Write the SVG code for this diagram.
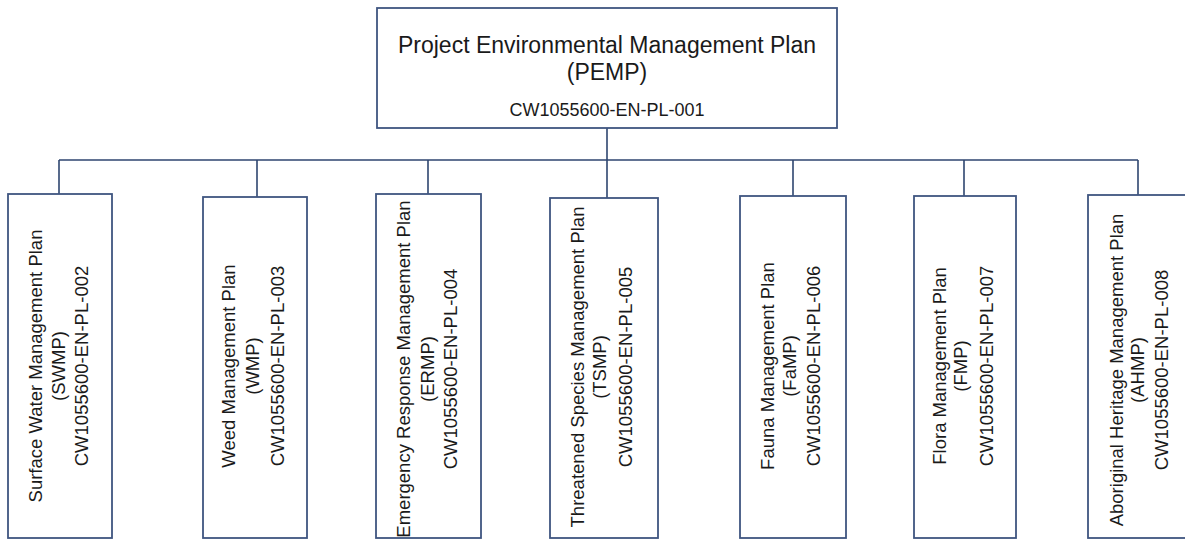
<svg xmlns="http://www.w3.org/2000/svg" width="1185" height="540" viewBox="0 0 1185 540">
<style>
.box{fill:#fff;stroke:#3f5580;stroke-width:1.8}
.conn{fill:none;stroke:#2f4670;stroke-width:1.6}
text{font-family:"Liberation Sans",Arial,sans-serif;fill:#1a1a1a;text-anchor:middle}
.t1{font-size:23px}
.code{font-size:18px}
.c{font-size:18.5px}
</style>
<rect width="1185" height="540" fill="#fff"/>
<g id="connectors">
<path class="conn" d="M607 128V160M59 160H1138M59 160V194M257 160V197M428 160V194M607 160V198M793 160V196M964 160V196M1138 160V195"/>
</g>
<g id="pemp">
<rect class="box" x="377" y="8" width="460" height="120"/>
<text class="t1" x="607" y="53">Project Environmental Management Plan</text>
<text class="t1" x="607" y="80">(PEMP)</text>
<text class="code" x="607" y="116">CW1055600-EN-PL-001</text>
</g>
<g id="swmp">
<rect class="box" x="8" y="194" width="104" height="344"/>
<g transform="translate(60,366) rotate(-90)"><text class="c" y="-18">Surface Water Management Plan</text><text class="c" y="5">(SWMP)</text><text class="c" y="28">CW1055600-EN-PL-002</text></g>
</g>
<g id="wmp">
<rect class="box" x="203" y="197" width="104" height="341"/>
<g transform="translate(255,366) rotate(-90)"><text class="c" y="-20">Weed Management Plan</text><text class="c" y="4">(WMP)</text><text class="c" y="29">CW1055600-EN-PL-003</text></g>
</g>
<g id="ermp">
<rect class="box" x="376" y="194" width="105" height="344"/>
<g transform="translate(428.5,369) rotate(-90)"><text class="c" y="-19">Emergency Response Management Plan</text><text class="c" y="5">(ERMP)</text><text class="c" y="28">CW1055600-EN-PL-004</text></g>
</g>
<g id="tsmp">
<rect class="box" x="550" y="198" width="108" height="340"/>
<g transform="translate(604,367) rotate(-90)"><text class="c" y="-20">Threatened Species Management Plan</text><text class="c" y="2">(TSMP)</text><text class="c" y="28">CW1055600-EN-PL-005</text></g>
</g>
<g id="famp">
<rect class="box" x="740" y="196" width="106" height="342"/>
<g transform="translate(793,366) rotate(-90)"><text class="c" y="-19">Fauna Management Plan</text><text class="c" y="3">(FaMP)</text><text class="c" y="27">CW1055600-EN-PL-006</text></g>
</g>
<g id="fmp">
<rect class="box" x="914" y="196" width="102" height="342"/>
<g transform="translate(965,366) rotate(-90)"><text class="c" y="-19">Flora Management Plan</text><text class="c" y="2">(FMP)</text><text class="c" y="28">CW1055600-EN-PL-007</text></g>
</g>
<g id="ahmp">
<rect class="box" x="1088" y="195" width="108" height="343"/>
<g transform="translate(1142,370) rotate(-90)"><text class="c" y="-19">Aboriginal Heritage Management Plan</text><text class="c" y="2">(AHMP)</text><text class="c" y="26">CW1055600-EN-PL-008</text></g>
</g>
</svg>
